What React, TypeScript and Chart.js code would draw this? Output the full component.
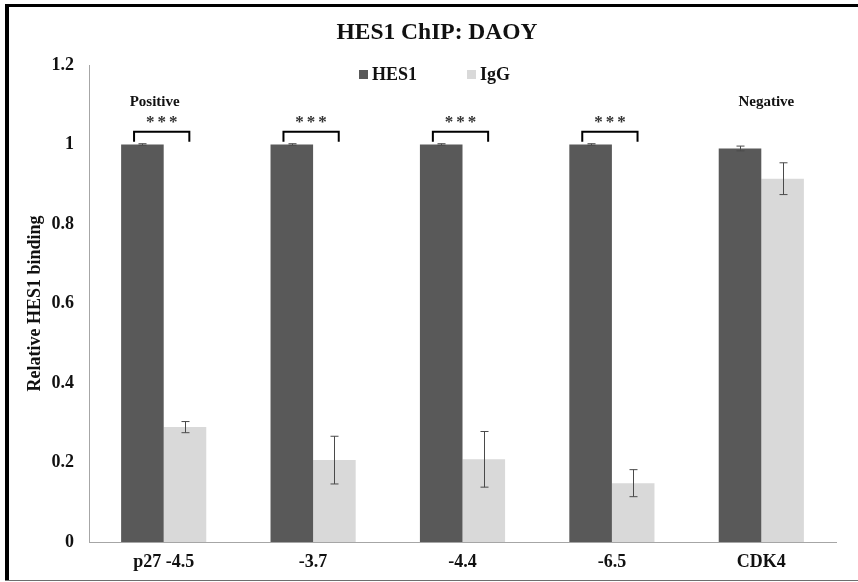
import React, { useEffect, useRef } from "react";
import { Chart, registerables } from "chart.js";

Chart.register(...registerables);

// Binding data: HES1 ChIP vs IgG control at p27 promoter sites and CDK4
const categories = ["p27 -4.5", "-3.7", "-4.4", "-6.5", "CDK4"];
const hes1Values = [1.0, 1.0, 1.0, 1.0, 0.99];
const hes1Errors = [0.002, 0.002, 0.002, 0.002, 0.006];
const iggValues = [0.289, 0.206, 0.208, 0.148, 0.914];
const iggErrors = [0.014, 0.06, 0.07, 0.034, 0.04];
const yTicks = [0, 0.2, 0.4, 0.6, 0.8, 1, 1.2];
const significance = ["***", "***", "***", "***", ""];
const groupLabels = [
  { index: 0, text: "Positive" },
  { index: 4, text: "Negative" },
];

const HES1_COLOR = "#595959";
const IGG_COLOR = "#d9d9d9";
const SERIF = "'Liberation Serif', 'Times New Roman', serif";

// Vertical positions of the significance brackets, in data units
const BRACKET_TOP = 1.032;
const BRACKET_FOOT = 1.007;
const STAR_LEVEL = 1.056;
const GROUP_LABEL_LEVEL = 1.107;

const decorPlugin = {
  id: "decor",
  beforeDraw(chart: any) {
    const { ctx, width, height } = chart;
    ctx.save();
    ctx.fillStyle = "#ffffff";
    ctx.fillRect(0, 0, width, height);
    // frame
    ctx.fillStyle = "#000000";
    ctx.fillRect(5, 4, 4, height - 5);
    ctx.fillRect(5, 4, width - 5, 3);
    ctx.fillStyle = "#6e6e6e";
    ctx.fillRect(5, height - 2, width - 5, 1);
    ctx.restore();
  },
  afterDatasetsDraw(chart: any) {
    const { ctx } = chart;
    const y = chart.scales.y;
    const x = chart.scales.x;
    const errs = [hes1Errors, iggErrors];
    const vals = [hes1Values, iggValues];
    ctx.save();
    // error bars
    ctx.strokeStyle = "#4a4a4a";
    ctx.lineWidth = 1;
    for (let d = 0; d < 2; d++) {
      const meta = chart.getDatasetMeta(d);
      meta.data.forEach((bar: any, i: number) => {
        const cx = Math.round(bar.x) + 0.5;
        const top = y.getPixelForValue(vals[d][i] + errs[d][i]);
        const bot = y.getPixelForValue(vals[d][i] - errs[d][i]);
        ctx.beginPath();
        ctx.moveTo(cx, top);
        ctx.lineTo(cx, bot);
        ctx.moveTo(cx - 4, top);
        ctx.lineTo(cx + 4, top);
        ctx.moveTo(cx - 4, bot);
        ctx.lineTo(cx + 4, bot);
        ctx.stroke();
      });
    }
    // significance brackets
    const catW = (x.right - x.left) / categories.length;
    ctx.strokeStyle = "#000000";
    ctx.lineWidth = 2;
    ctx.textAlign = "center";
    ctx.textBaseline = "middle";
    significance.forEach((s, i) => {
      if (!s) return;
      const c = x.getPixelForValue(i) - 2;
      const l = c - catW * 0.185;
      const r = c + catW * 0.185;
      const t = y.getPixelForValue(BRACKET_TOP);
      const f = y.getPixelForValue(BRACKET_FOOT);
      ctx.beginPath();
      ctx.moveTo(l, f);
      ctx.lineTo(l, t);
      ctx.lineTo(r, t);
      ctx.lineTo(r, f);
      ctx.stroke();
      ctx.fillStyle = "#333333";
      ctx.font = `bold 17px ${SERIF}`;
      (ctx as any).letterSpacing = "3px";
      ctx.fillText(s, c + 1.5, y.getPixelForValue(STAR_LEVEL));
      (ctx as any).letterSpacing = "0px";
    });
    // group labels
    ctx.fillStyle = "#111111";
    ctx.font = `bold 15px ${SERIF}`;
    groupLabels.forEach((g) => {
      const c = x.getPixelForValue(g.index) + (g.index === 0 ? -9 : 5);
      ctx.fillText(g.text, c, y.getPixelForValue(GROUP_LABEL_LEVEL));
    });
    ctx.restore();
  },
  afterDraw(chart: any) {
    const { ctx } = chart;
    ctx.save();
    ctx.fillStyle = "#111111";
    ctx.textAlign = "center";
    ctx.textBaseline = "middle";
    ctx.font = `bold 23.5px ${SERIF}`;
    ctx.fillText("HES1 ChIP: DAOY", 437, 33);
    // legend
    ctx.font = `bold 18px ${SERIF}`;
    ctx.textAlign = "left";
    const items = [
      { label: "HES1", color: HES1_COLOR, x: 359 },
      { label: "IgG", color: IGG_COLOR, x: 467 },
    ];
    items.forEach((it) => {
      ctx.fillStyle = it.color;
      ctx.fillRect(it.x, 70, 9, 9);
      ctx.fillStyle = "#111111";
      ctx.fillText(it.label, it.x + 13, 75);
    });
    ctx.restore();
  },
};

export default function App() {
  const canvasRef = useRef<HTMLCanvasElement | null>(null);

  useEffect(() => {
    if (!canvasRef.current) return;
    const chart = new Chart(canvasRef.current, {
      type: "bar",
      data: {
        labels: categories,
        datasets: [
          {
            label: "HES1",
            data: hes1Values,
            backgroundColor: HES1_COLOR,
            categoryPercentage: 0.57,
            barPercentage: 1.0,
          },
          {
            label: "IgG",
            data: iggValues,
            backgroundColor: IGG_COLOR,
            categoryPercentage: 0.57,
            barPercentage: 1.0,
          },
        ],
      },
      options: {
        responsive: false,
        animation: false,
        devicePixelRatio: 1,
        layout: { padding: { left: 9, top: 65, right: 22, bottom: 0 } },
        plugins: {
          legend: { display: false },
          title: { display: false },
          tooltip: { enabled: false },
        },
        scales: {
          x: {
            grid: { display: false, drawTicks: false },
            border: { display: true, color: "#a6a6a6", width: 1 },
            ticks: {
              color: "#111111",
              font: { family: SERIF, size: 18, weight: "bold" },
              padding: 10,
              maxRotation: 0,
            },
            afterFit(scale: any) {
              scale.height = 40;
            },
          },
          y: {
            min: 0,
            max: 1.2,
            afterBuildTicks(scale: any) {
              scale.ticks = yTicks.map((v) => ({ value: v }));
            },
            grid: { display: false, drawTicks: false },
            border: { display: true, color: "#a6a6a6", width: 1 },
            ticks: {
              color: "#111111",
              font: { family: SERIF, size: 18, weight: "bold" },
              padding: 15,
              callback: (v: any) => String(Math.round(Number(v) * 10) / 10),
            },
            title: {
              display: true,
              text: "Relative HES1 binding",
              color: "#111111",
              font: { family: SERIF, size: 18, weight: "bold" },
              padding: { top: 16, bottom: 0 },
            },
            afterFit(scale: any) {
              scale.width = 80;
            },
          },
        },
      },
      plugins: [decorPlugin],
    });
    return () => chart.destroy();
  }, []);

  return (
    <div style={{ position: "absolute", left: 0, top: 0, width: 858, height: 582, background: "#fff" }}>
      <canvas ref={canvasRef} width={858} height={582} style={{ display: "block" }} />
    </div>
  );
}
